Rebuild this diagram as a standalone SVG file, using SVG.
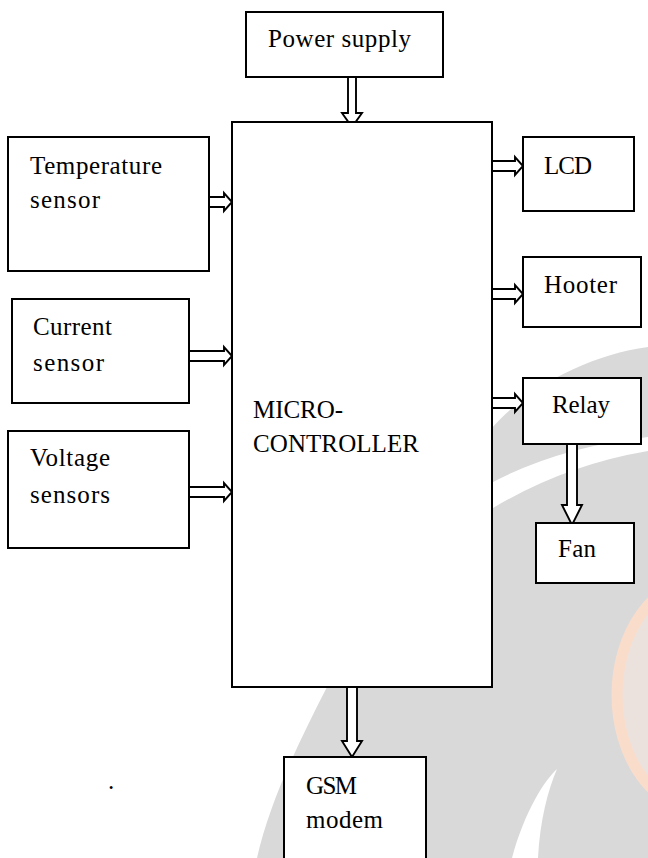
<svg xmlns="http://www.w3.org/2000/svg" width="648" height="858" viewBox="0 0 648 858">
<style>
.box{fill:#fff;stroke:#000;stroke-width:2}
.arr{fill:#fff;stroke:#000;stroke-width:1.9;stroke-linejoin:miter}
.t{font-family:"Liberation Serif","Times New Roman",serif;font-size:25px;fill:#000}
</style>
<rect width="648" height="858" fill="#fff"/>
<g id="watermark">
<path d="M648 347 C590 355 530 385 492 428 L340 640 L327 687 C300 740 270 800 257 858 L648 858 Z" fill="#d9d9d9"/>
<path d="M493 482 Q560 447 648 437 L648 451 Q565 465 493 508 Z" fill="#fff"/>
<path d="M557 769 C545 780 525 810 512 858 L538 858 C540 820 548 790 557 769 Z" fill="#fff"/>
<ellipse cx="700" cy="695" rx="83" ry="115" fill="#ece2dd" stroke="#fadcca" stroke-width="11"/>
</g>
<g id="connectors">
<path class="arr" d="M348 77 V113 H342 L352 127 L362 113 H356 V77 Z"/>
<path class="arr" d="M209 197 H224 V193 L232 202 L224 211 V207 H209 Z"/>
<path class="arr" d="M189 351 H224 V347 L232 356 L224 365 V361 H189 Z"/>
<path class="arr" d="M189 487 H224 V483 L232 492 L224 501 V497 H189 Z"/>
<path class="arr" d="M492 161 H515 V157 L523 166 L515 175 V171 H492 Z"/>
<path class="arr" d="M492 289 H515 V285 L523 294 L515 303 V299 H492 Z"/>
<path class="arr" d="M492 398 H515 V394 L523 403 L515 412 V408 H492 Z"/>
<path class="arr" d="M567 440 V505 H562 L572 525 L582 505 H577 V440 Z"/>
<path class="arr" d="M347 687 V741 H342 L352 757 L362 741 H357 V687 Z"/>
</g>
<g id="power">
<rect class="box" x="246" y="12" width="197" height="65"/>
<text class="t" x="268" y="47" textLength="143">Power supply</text>
</g>
<g id="mcu">
<rect class="box" x="232" y="122" width="260" height="565"/>
<text class="t" x="253" y="418" textLength="90">MICRO-</text>
<text class="t" x="253" y="452" textLength="166">CONTROLLER</text>
</g>
<g id="temp">
<rect class="box" x="8" y="137" width="201" height="134"/>
<text class="t" x="30" y="174" textLength="132">Temperature</text>
<text class="t" x="30" y="208" textLength="70">sensor</text>
</g>
<g id="current">
<rect class="box" x="12" y="299" width="177" height="104"/>
<text class="t" x="33" y="335" textLength="79">Current</text>
<text class="t" x="33" y="371" textLength="71">sensor</text>
</g>
<g id="voltage">
<rect class="box" x="8" y="431" width="181" height="117"/>
<text class="t" x="30" y="466" textLength="80">Voltage</text>
<text class="t" x="30" y="503" textLength="80">sensors</text>
</g>
<g id="lcd">
<rect class="box" x="523" y="137" width="111" height="74"/>
<text class="t" x="544" y="174" textLength="48">LCD</text>
</g>
<g id="hooter">
<rect class="box" x="523" y="257" width="118" height="70"/>
<text class="t" x="544" y="293" textLength="73">Hooter</text>
</g>
<g id="relay">
<rect class="box" x="523" y="378" width="118" height="66"/>
<text class="t" x="552" y="413" textLength="58">Relay</text>
</g>
<g id="fan">
<rect class="box" x="536" y="523" width="98" height="60"/>
<text class="t" x="558" y="557" textLength="38">Fan</text>
</g>
<g id="gsm">
<rect class="box" x="284" y="757" width="142" height="120"/>
<text class="t" x="306" y="794" textLength="51">GSM</text>
<text class="t" x="306" y="828" textLength="77">modem</text>
</g>
<text class="t" x="108" y="789">.</text>
</svg>
